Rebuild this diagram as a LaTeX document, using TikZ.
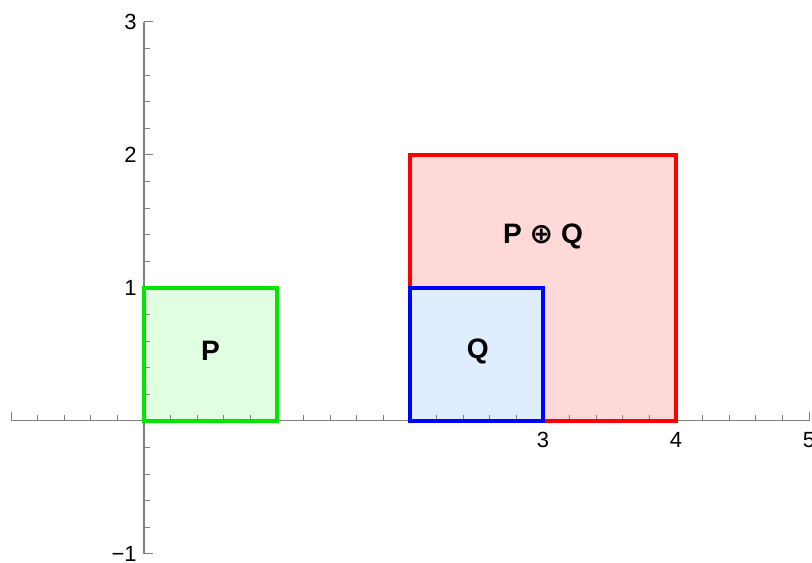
\documentclass[tikz,border=0pt]{standalone}
\usepackage{fontspec}
\setmainfont{Liberation Sans}
\newfontfamily\symfont{DejaVu Sans}
\usetikzlibrary{positioning}
\definecolor{axgray}{RGB}{128,128,128}
\definecolor{pgreen}{RGB}{0,230,0}
\definecolor{pred}{RGB}{255,0,0}
\definecolor{pblue}{RGB}{0,0,255}
\definecolor{palegreen}{RGB}{224,255,224}
\definecolor{palered}{RGB}{255,216,216}
\definecolor{paleblue}{RGB}{222,237,255}
\tikzset{
  ax/.style={axgray,line width=0.6pt},
  tk/.style={axgray,line width=0.5pt},
  edgeP/.style={draw=pgreen,line width=2.3pt},
  edgeQ/.style={draw=pblue,line width=2.3pt},
  edgeS/.style={draw=pred,line width=2.3pt},
  ticklab/.style={font=\fontsize{12.5pt}{14pt}\selectfont,inner sep=1pt},
  setlab/.style={font=\fontsize{16pt}{18pt}\selectfont\bfseries,inner sep=0pt}
}
\begin{document}
\begin{tikzpicture}[x=2.66cm,y=2.66cm]
    \useasboundingbox (-1.083,-1.068) rectangle (5.023,3.165);
    % --- fills
    \fill[palered]   (2,0) rectangle (4,2);
    \fill[paleblue]  (2,0) rectangle (3,1);
    \fill[palegreen] (0,0) rectangle (1,1);
    % --- axes
    \draw[ax] (-1,0) -- (5,0);
    \draw[ax] (0,-1) -- (0,3);
    \foreach \i in {-1,...,5} \draw[tk] (\i,0) -- ++(0,0.068);
    \foreach \i in {-1,...,4}
      \foreach \j in {1,...,4} \draw[tk] (\i+\j/5,0) -- ++(0,0.042);
    \foreach \i in {-1,...,3} \draw[tk] (0,\i) -- ++(0.068,0);
    \foreach \i in {-1,...,2}
      \foreach \j in {1,...,4} \draw[tk] (0,\i+\j/5) -- ++(0.042,0);
    \node[ticklab,below] (x3) at (3,-0.07) {3};
    \node[ticklab,below] (x4) at (4,-0.07) {4};
    \node[ticklab,below] (x5) at (5,-0.07) {5};
    \node[ticklab,left] (y3) at (-0.04,3) {3};
    \node[ticklab,left] (y2) at (-0.04,2) {2};
    \node[ticklab,left] (y1) at (-0.04,1) {1};
    \node[ticklab,left] (ym1) at (-0.04,-1) {−1};
    % --- edges
    \draw[edgeS] (2,0) rectangle (4,2);
    \draw[edgeQ] (2,0) rectangle (3,1);
    \draw[edgeP] (0,0) rectangle (1,1);
    % --- labels
    \node[setlab] (labP) at (0.5,0.53) {P};
    \node[setlab] (labQ) at (2.51,0.52) {Q};
    \node[setlab] (labS) at (3.0,1.39) {P {\symfont\bfseries ⊕} Q};
\end{tikzpicture}
\end{document}
